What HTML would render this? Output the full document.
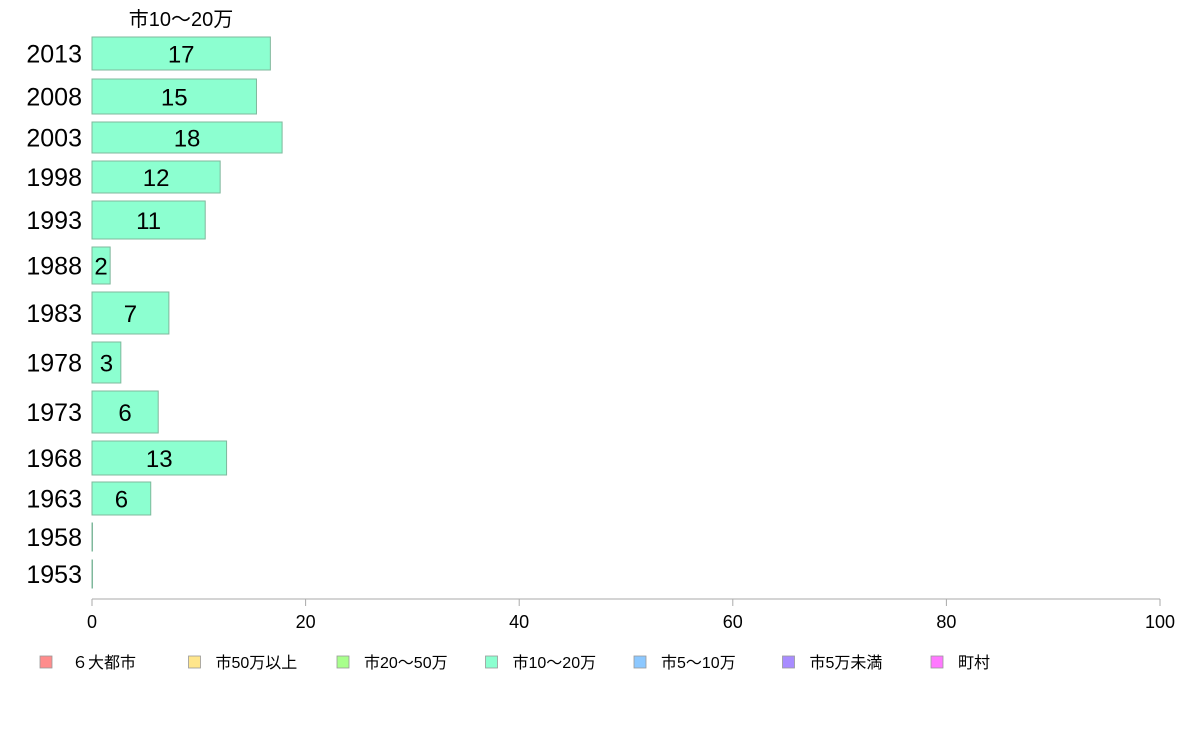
<!DOCTYPE html>
<html><head><meta charset="utf-8"><style>
body{margin:0;background:#fff;}
svg{display:block;font-family:"Liberation Sans","Noto Sans CJK JP",sans-serif;}
</style></head><body>
<svg id="chart" width="1188" height="736" viewBox="0 0 1188 736"></svg>
<script>
const years = ["2013","2008","2003","1998","1993","1988","1983","1978","1973","1968","1963","1958","1953"];
const values = [16.7,15.4,17.8,12.0,10.6,1.7,7.2,2.7,6.2,12.6,5.5,0,0];
const valueLabels = ["17","15","18","12","11","2","7","3","6","13","6","",""];
const xTicks = [0,20,40,60,80,100];
const legendLabels = ["６大都市","市50万以上","市20〜50万","市10〜20万","市5〜10万","市5万未満","町村"];
const legendColors = ["#ff8c8c","#ffe68c","#a8ff8c","#8cffd0","#8cc8ff","#a88cff","#ff78ff"];
// layout: band top/bottom in px (not data)
const bandTop = [37,79,122,161,201,247,292,342,391,441,482,523,560];
const bandBot = [70,114,153,193,239,284,334,383,433,475,515,551,588];

const NS="http://www.w3.org/2000/svg";
const svg=document.getElementById('chart');
const x0=92,x1=1160;
const xs=v=>x0+(v/100)*(x1-x0);
function mk(t,a){const e=document.createElementNS(NS,t);for(const k in a)e.setAttribute(k,a[k]);svg.appendChild(e);return e;}

let t=mk('text',{x:181,y:26,'font-size':20,'text-anchor':'middle',fill:'#000'});
t.textContent="市10〜20万";



years.forEach((y,i)=>{
  const top=bandTop[i],bot=bandBot[i],mid=(top+bot)/2;
  const r=mk('rect',{x:x0,y:top,width:Math.max(xs(values[i])-x0,0.5),height:bot-top,fill:'#8cffd0',stroke:'#7fb89c','stroke-width':1});
  
  
  const yl=mk('text',{x:82,y:mid+9,'font-size':25,'text-anchor':'end',fill:'#000'});
  yl.textContent=y;
  
  
  if(valueLabels[i]){
    const vl=mk('text',{x:(x0+xs(values[i]))/2,y:mid+9,'font-size':24,'text-anchor':'middle',fill:'#000'});
    vl.textContent=valueLabels[i];
    
    
  }
});

const ax=mk('line',{x1:x0,y1:599,x2:x1,y2:599,stroke:'#aaa','stroke-width':1});


xTicks.forEach(v=>{
  const tk=mk('line',{x1:xs(v),y1:599,x2:xs(v),y2:606,stroke:'#aaa'});
  
  
  const tl=mk('text',{x:xs(v),y:628,'font-size':18,'text-anchor':'middle',fill:'#000'});
  tl.textContent=v;
  
  
});

legendLabels.forEach((l,i)=>{
  const lx=40+i*148.5;
  const sw=mk('rect',{x:lx,y:656,width:12,height:12,fill:legendColors[i],stroke:'#999','stroke-width':0.8});
  
  
  const lt=mk('text',{x:lx+(i===0?32:27),y:668,'font-size':16,fill:'#000'});
  lt.textContent=l;
  
  
});
</script>
</body></html>
